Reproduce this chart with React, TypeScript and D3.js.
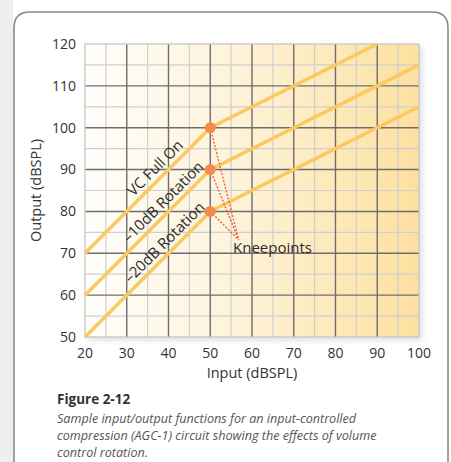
import React from "react";
import * as d3 from "d3";

const xTicks = [20, 30, 40, 50, 60, 70, 80, 90, 100];
const yTicks = [50, 60, 70, 80, 90, 100, 110, 120];
const minorX = [25, 35, 45, 55, 65, 75, 85, 95];
const minorY = [55, 65, 75, 85, 95, 105, 115];

const seriesNames = ["VC Full On", "–10dB Rotation", "–20dB Rotation"];
const seriesInput = [
  [20, 50, 90],
  [20, 50, 100],
  [20, 50, 100],
];
const seriesOutput = [
  [70, 100, 120],
  [60, 90, 115],
  [50, 80, 105],
];
const labelAt = [38.6, 40.5, 40.8];
const kneeInput = [50, 50, 50];
const kneeOutput = [100, 90, 80];
const kneeLabel = "Kneepoints";
const kneeTarget = [56.8, 73.2];

const captionTitle = "Figure 2-12";
const captionLines = [
  "Sample input/output functions for an input-controlled",
  "compression (AGC-1) circuit showing the effects of volume",
  "control rotation.",
];

const W = 451;
const H = 462;
const L = 85, R = 419, T = 44, B = 337;

export default function App() {
  const x = d3.scaleLinear().domain([20, 100]).range([L, R]);
  const y = d3.scaleLinear().domain([50, 120]).range([B, T]);
  const line = d3
    .line<[number, number]>()
    .x((d) => x(d[0]))
    .y((d) => y(d[1]));
  const angle = (Math.atan2(y(70) - y(60), x(30) - x(20)) * 180) / Math.PI;
  const font = "'Open Sans', sans-serif";

  return (
    <svg
      width={W}
      height={H}
      style={{ position: "absolute", left: 0, top: 0, display: "block" }}
    >
      <defs>
        <linearGradient id="bg" x1="0" x2="1" y1="0" y2="0">
          <stop offset="0" stopColor="#fffefb" />
          <stop offset="0.45" stopColor="#fef3d9" />
          <stop offset="1" stopColor="#fde0a0" />
        </linearGradient>
        <filter id="sh" x="-5%" y="-5%" width="115%" height="115%">
          <feDropShadow dx="3" dy="3" stdDeviation="3" floodColor="#8aa0b8" floodOpacity="0.35" />
        </filter>
      </defs>
      <rect x={0} y={0} width={W} height={H} fill="#ffffff" />
      <rect x={0} y={0} width={13} height={H} fill="#efefef" />
      <path
        d={`M14,${H + 5} L14,28 Q14,12 30,12 L432,12 Q448,12 448,28 L448,${H + 5}`}
        fill="#ffffff"
        stroke="#8a8a8a"
        strokeWidth={1.6}
      />
      <rect x={L} y={T} width={R - L} height={B - T} fill="url(#bg)" filter="url(#sh)" />
      {minorX.map((v) => (
        <line key={"mx" + v} x1={x(v)} x2={x(v)} y1={T} y2={B} stroke="#cfcfcf" strokeWidth={1.2} />
      ))}
      {minorY.map((v) => (
        <line key={"my" + v} x1={L} x2={R} y1={y(v)} y2={y(v)} stroke="#cfcfcf" strokeWidth={1.2} />
      ))}
      {xTicks.slice(1, -1).map((v) => (
        <line key={"gx" + v} x1={x(v)} x2={x(v)} y1={T} y2={B} stroke="#6e6e6e" strokeWidth={1.4} />
      ))}
      {yTicks.slice(1, -1).map((v) => (
        <line key={"gy" + v} x1={L} x2={R} y1={y(v)} y2={y(v)} stroke="#6e6e6e" strokeWidth={1.4} />
      ))}
      <rect x={L} y={T} width={R - L} height={B - T} fill="none" stroke="#c4c4c4" strokeWidth={1.2} />
      {seriesOutput.map((ys, i) => (
        <path
          key={"s" + i}
          d={line(ys.map((v, j) => [seriesInput[i][j], v]) as [number, number][]) || ""}
          fill="none"
          stroke="#fcc860"
          strokeWidth={3.5}
          strokeLinecap="butt"
        />
      ))}
      {kneeOutput.map((v, i) => (
        <line
          key={"k" + i}
          x1={x(kneeInput[i])}
          y1={y(v)}
          x2={x(kneeTarget[0])}
          y2={y(kneeTarget[1])}
          stroke="#f0683e"
          strokeWidth={1.5}
          strokeDasharray="2,1.6"
        />
      ))}
      {kneeOutput.map((v, i) => (
        <circle key={"c" + i} cx={x(kneeInput[i])} cy={y(v)} r={5.5} fill="#f7894a" />
      ))}
      {seriesNames.map((name, i) => {
        const xv = labelAt[i];
        const yv = seriesOutput[i][0] + (xv - 20);
        return (
          <text
            key={"n" + i}
            transform={`translate(${x(xv)},${y(yv)}) rotate(${angle})`}
            dy={-5.5}
            textAnchor="middle"
            fontFamily={font}
            fontSize={15}
            fill="#2b2b2b"
          >
            {name}
          </text>
        );
      })}
      <text x={233} y={253} fontFamily={font} fontSize={15} fill="#2b2b2b">
        {kneeLabel}
      </text>
      {yTicks.map((v) => (
        <text
          key={"yt" + v}
          x={76}
          y={y(v)}
          dy="0.35em"
          textAnchor="end"
          fontFamily={font}
          fontSize={14}
          fill="#333"
        >
          {v}
        </text>
      ))}
      {xTicks.map((v) => (
        <text
          key={"xt" + v}
          x={x(v)}
          y={358}
          textAnchor="middle"
          fontFamily={font}
          fontSize={14}
          fill="#333"
        >
          {v}
        </text>
      ))}
      <text x={252} y={378} textAnchor="middle" fontFamily={font} fontSize={14.5} fill="#333">
        Input (dBSPL)
      </text>
      <text
        transform={`translate(41,${(T + B) / 2}) rotate(-90)`}
        textAnchor="middle"
        fontFamily={font}
        fontSize={14.5}
        fill="#333"
      >
        Output (dBSPL)
      </text>
      <text x={57} y={404} fontFamily={font} fontSize={13.5} fontWeight="bold" fill="#333">
        {captionTitle}
      </text>
      {captionLines.map((t, i) => (
        <text
          key={"cap" + i}
          x={57}
          y={423 + i * 17}
          fontFamily={font}
          fontSize={12.6}
          fontStyle="italic"
          fill="#555"
        >
          {t}
        </text>
      ))}
    </svg>
  );
}
